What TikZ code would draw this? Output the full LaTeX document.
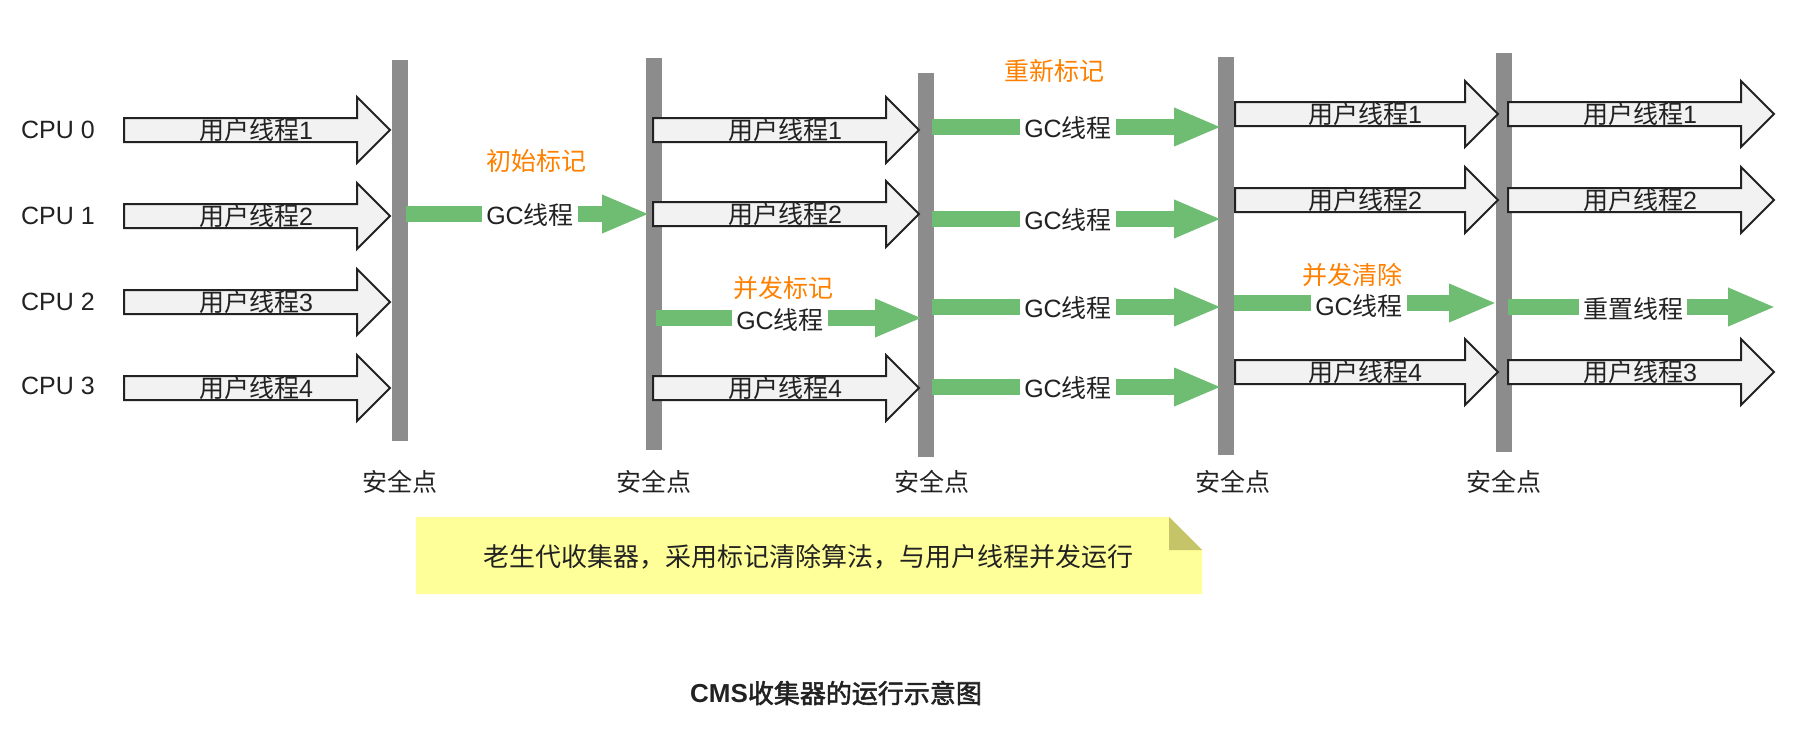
\documentclass[tikz,border=0pt]{standalone}
\usepackage{fontspec}
\setmainfont{Liberation Sans}
\newfontfamily\cjk[AutoFakeBold=2]{Noto Sans CJK SC}
\newcommand{\zh}[1]{{\cjk #1}}
\usetikzlibrary{arrows.meta}
\usetikzlibrary{shapes.arrows}

\definecolor{ink}{RGB}{34,34,34}
\definecolor{barc}{RGB}{140,140,140}
\definecolor{ubg}{RGB}{242,242,242}
\definecolor{gcgreen}{RGB}{110,189,114}
\definecolor{markc}{RGB}{255,128,0}
\definecolor{notebg}{RGB}{255,255,153}
\definecolor{notefold}{RGB}{197,196,104}

\begin{document}
\begin{tikzpicture}[x=.5pt, y=-.5pt,
	sbar/.style={line width=8pt, draw=barc},
	uarrow/.style={single arrow, draw=ink, fill=ubg, line width=1pt, minimum width=32pt,
		single arrow head extend=10.5pt, inner sep=0pt, text height=11pt, text depth=0pt,
		anchor=tail},
	gcarrow/.style={line width=8pt, draw=gcgreen, -{Triangle[length=24pt, width=17.5pt]}},
	txt/.style={text=ink, font=\fontsize{12.5}{15}\selectfont, inner sep=0pt},
	gclabel/.style={txt, fill=white, inner xsep=2pt, inner ysep=1pt},
	phase/.style={text=markc, font=\fontsize{12.5}{15}\selectfont, inner sep=0pt}]
	\useasboundingbox (0,0) rectangle (1814,728);

	% safe points
	\coordinate (s1t) at (400,60);  \coordinate (s1b) at (400,441);
	\coordinate (s2t) at (654,58);  \coordinate (s2b) at (654,450);
	\coordinate (s3t) at (926,73);  \coordinate (s3b) at (926,457);
	\coordinate (s4t) at (1226,57); \coordinate (s4b) at (1226,455);
	\coordinate (s5t) at (1504,53); \coordinate (s5b) at (1504,452);
	\draw[sbar] (s1t) -- (s1b);
	\draw[sbar] (s2t) -- (s2b);
	\draw[sbar] (s3t) -- (s3b);
	\draw[sbar] (s4t) -- (s4b);
	\draw[sbar] (s5t) -- (s5b);
	\node[txt] (p1) at (400,482) {\zh{安全点}};
	\node[txt] (p2) at (654,482) {\zh{安全点}};
	\node[txt] (p3) at (932,482) {\zh{安全点}};
	\node[txt] (p4) at (1233,482) {\zh{安全点}};
	\node[txt] (p5) at (1504,482) {\zh{安全点}};

	% cpus
	\node[txt] (cpu0) at (58,130) {CPU 0};
	\node[txt] (cpu1) at (58,216) {CPU 1};
	\node[txt] (cpu2) at (58,302) {CPU 2};
	\node[txt] (cpu3) at (58,386) {CPU 3};

	% user threads
	\node[uarrow, minimum height=133pt] (u0a) at (123,130) {};
	\node[uarrow, minimum height=133pt] (u1a) at (123,216) {};
	\node[uarrow, minimum height=133pt] (u2a) at (123,302) {};
	\node[uarrow, minimum height=133pt] (u3a) at (123,388) {};
	\node[txt] (t0a) at (256,130) {\zh{用户线程}1};
	\node[txt] (t1a) at (256,216) {\zh{用户线程}2};
	\node[txt] (t2a) at (256,302) {\zh{用户线程}3};
	\node[txt] (t3a) at (256,388) {\zh{用户线程}4};

	\node[uarrow, minimum height=133pt] (u0b) at (652,130) {};
	\node[uarrow, minimum height=133pt] (u1b) at (652,214) {};
	\node[uarrow, minimum height=133pt] (u3b) at (652,388) {};
	\node[txt] (t0b) at (785,130) {\zh{用户线程}1};
	\node[txt] (t1b) at (785,214) {\zh{用户线程}2};
	\node[txt] (t3b) at (785,388) {\zh{用户线程}4};

	\node[uarrow, minimum height=131.5pt] (u0d) at (1234,114) {};
	\node[uarrow, minimum height=131.5pt] (u1d) at (1234,200) {};
	\node[uarrow, minimum height=131.5pt] (u3d) at (1234,372) {};
	\node[txt] (t0d) at (1365,114) {\zh{用户线程}1};
	\node[txt] (t1d) at (1365,200) {\zh{用户线程}2};
	\node[txt] (t3d) at (1365,372) {\zh{用户线程}4};

	\node[uarrow, minimum height=133pt] (u0e) at (1507,114) {};
	\node[uarrow, minimum height=133pt] (u1e) at (1507,200) {};
	\node[uarrow, minimum height=133pt] (u3e) at (1507,372) {};
	\node[txt] (t0e) at (1640,114) {\zh{用户线程}1};
	\node[txt] (t1e) at (1640,200) {\zh{用户线程}2};
	\node[txt] (t3e) at (1640,372) {\zh{用户线程}3};

	% gc threads
	\coordinate (ga1) at (406,214); \coordinate (ga2) at (650,214);
	\draw[gcarrow] (ga1) -- (ga2);
	\node[gclabel] (gal) at (530,215) {GC\zh{线程}};
	\node[phase] (ma) at (536,161) {\zh{初始标记}};

	\coordinate (gb1) at (656,318); \coordinate (gb2) at (923,318);
	\draw[gcarrow] (gb1) -- (gb2);
	\node[gclabel] (gbl) at (780,320) {GC\zh{线程}};
	\node[phase] (mb) at (783,288) {\zh{并发标记}};

	\coordinate (gc01) at (932,127); \coordinate (gc02) at (1222,127);
	\coordinate (gc11) at (932,219); \coordinate (gc12) at (1222,219);
	\coordinate (gc21) at (932,307); \coordinate (gc22) at (1222,307);
	\coordinate (gc31) at (932,387); \coordinate (gc32) at (1222,387);
	\draw[gcarrow] (gc01) -- (gc02);
	\draw[gcarrow] (gc11) -- (gc12);
	\draw[gcarrow] (gc21) -- (gc22);
	\draw[gcarrow] (gc31) -- (gc32);
	\node[gclabel] (gc0l) at (1068,128) {GC\zh{线程}};
	\node[gclabel] (gc1l) at (1068,220) {GC\zh{线程}};
	\node[gclabel] (gc2l) at (1068,308) {GC\zh{线程}};
	\node[gclabel] (gc3l) at (1068,388) {GC\zh{线程}};
	\node[phase] (mc) at (1054,71) {\zh{重新标记}};

	\coordinate (gd1) at (1234,303); \coordinate (gd2) at (1497,303);
	\draw[gcarrow] (gd1) -- (gd2);
	\node[gclabel] (gdl) at (1359,306) {GC\zh{线程}};
	\node[phase] (md) at (1352,275) {\zh{并发清除}};

	\coordinate (ge1) at (1508,307); \coordinate (ge2) at (1776,307);
	\draw[gcarrow] (ge1) -- (ge2);
	\node[gclabel] (gel) at (1633,309) {\zh{重置线程}};

	% note
	\fill[notebg] (416,517) -- (1169,517) -- (1202,550) -- (1202,594) -- (416,594) -- cycle;
	\fill[notefold] (1169,517) -- (1202,550) -- (1169,550) -- cycle;
	\node[txt, font=\fontsize{13}{16}\selectfont] (note) at (808,557)
		{\zh{老生代收集器，采用标记清除算法，与用户线程并发运行}};

	\node[txt, font=\fontsize{13}{16}\selectfont\bfseries] (title) at (836,693)
		{CMS\zh{收集器的运行示意图}};
\end{tikzpicture}
\end{document}
